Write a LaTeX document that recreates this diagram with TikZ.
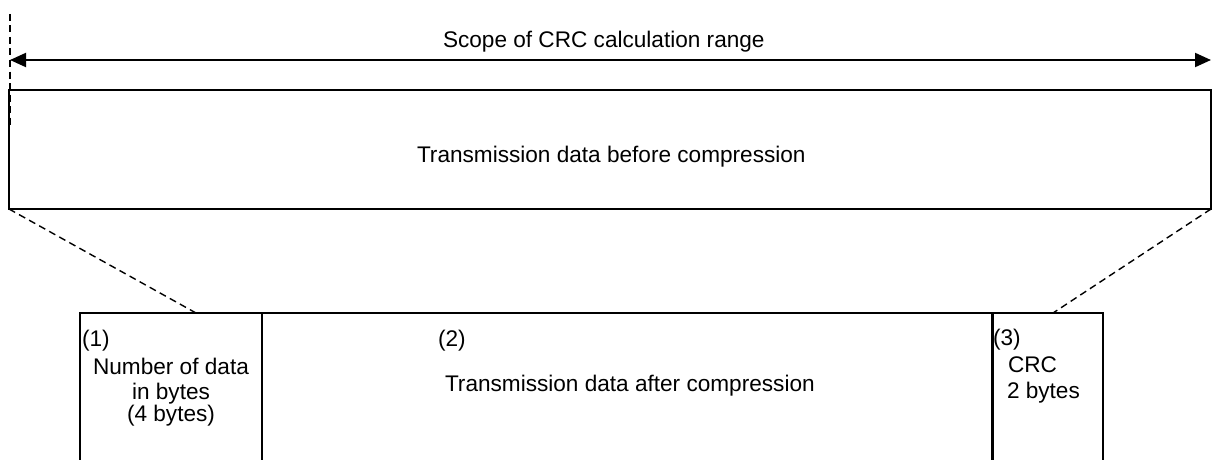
\documentclass[tikz,border=0pt]{standalone}
\usepackage{fontspec}
\setmainfont{Liberation Sans}
\usetikzlibrary{arrows.meta}
\begin{document}
\begin{tikzpicture}[x=1pt,y=-1pt,
  font=\fontsize{22.6}{26}\selectfont,
  boxline/.style={draw=black, line width=1.6pt},
  field/.style={boxline, rectangle, inner sep=0pt, outer sep=0pt},
  txt/.style={anchor=base west, inner sep=0pt, outer sep=0pt},
  ctxt/.style={anchor=base, inner sep=0pt, outer sep=0pt},
  guide/.style={draw=black, line width=1.4pt, dash pattern=on 7pt off 4.5pt},
  span/.style={draw=black, line width=2pt, {Triangle[length=16pt,width=14pt]}-{Triangle[length=16pt,width=14pt]}}]
\useasboundingbox (0,0) rectangle (1212,460);
% top box
\node[field, minimum width=1202pt, minimum height=119pt] (before) at (610,149.5) {};
\node[txt] (beforetxt) at (417,162) {Transmission data before compression};
% range arrow
\coordinate (vtop) at (10,14);
\coordinate (vbot) at (10,125);
\coordinate (aleft) at (10,60);
\coordinate (aright) at (1211,60);
\draw[guide] (vtop) -- (vbot);
\draw[span] (aleft) -- (aright);
\node[txt] (scope) at (443,48) {Scope of CRC calculation range};
% bottom fields
\node[field, minimum width=182pt, minimum height=167pt] (f1) at (171,396.5) {};
\node[field, minimum width=731pt, minimum height=167pt] (f2) at (627.5,396.5) {};
\node[field, minimum width=111pt, minimum height=167pt] (f3) at (1047.5,396.5) {};
\coordinate (c1) at (196,313);
\coordinate (c3) at (1053,313);
\draw[guide] (before.south west) -- (c1);
\draw[guide] (before.south east) -- (c3);
% texts
\node[txt] (n1) at (82,346) {(1)};
\node[ctxt] (l1a) at (171,374) {Number of data};
\node[ctxt] (l1b) at (171,399) {in bytes};
\node[ctxt] (l1c) at (171,421) {(4 bytes)};
\node[txt] (n2) at (438,346) {(2)};
\node[txt] (l2) at (445,391) {Transmission data after compression};
\node[txt] (n3) at (993,345) {(3)};
\node[txt] (l3a) at (1008,372) {CRC};
\node[txt] (l3b) at (1007,398) {2 bytes};
\end{tikzpicture}
\end{document}
